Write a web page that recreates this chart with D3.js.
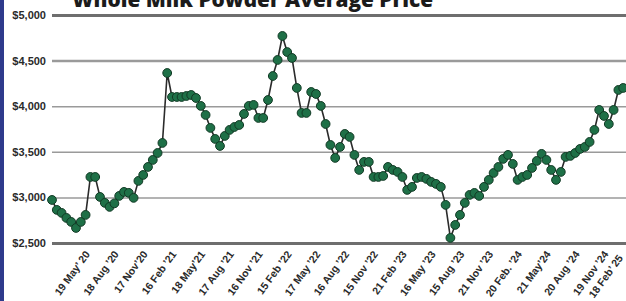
<!DOCTYPE html>
<html>
<head>
<meta charset="utf-8">
<script src="https://cdn.jsdelivr.net/npm/d3@7"></script>
<style>
  body { margin: 0; background: #fff; }
  svg { display: block; }
  .axis text { font-family: "Liberation Sans", Arial, sans-serif; font-weight: bold; fill: #2a2a2a; }
</style>
</head>
<body>
<script>
var width = 626;
var height = 301;
var margin = {top: 15, right: 0, bottom: 58, left: 52};

// GDT whole milk powder, average price (US$/t), one value per auction, Mar 2020 - Feb 2025
var prices = [
  2972, 2863, 2830, 2775, 2731, 2665, 2731, 2808, 3224, 3224,
  3005, 2940, 2896, 2935, 3016, 3060, 3050, 2995, 3181, 3246,
  3334, 3411, 3487, 3597, 4364, 4101, 4101, 4101, 4112, 4123,
  4090, 4003, 3904, 3762, 3641, 3564, 3674, 3740, 3772, 3794,
  3915, 4003, 4014, 3871, 3871, 4068, 4331, 4507, 4770, 4594,
  4529, 4200, 3926, 3926, 4156, 4134, 4003, 3805, 3575, 3433,
  3553, 3696, 3663, 3466, 3301, 3389, 3389, 3224, 3224, 3235,
  3334, 3301, 3279, 3224, 3082, 3115, 3213, 3224, 3203, 3170,
  3148, 3115, 2918, 2556, 2698, 2808, 2940, 3027, 3049, 3016,
  3115, 3192, 3268, 3334, 3422, 3466, 3367, 3192, 3224, 3246,
  3323, 3400, 3477, 3411, 3301, 3192, 3279, 3444, 3455, 3487,
  3531, 3553, 3608, 3740, 3959, 3893, 3805, 3959, 4178, 4200
];

// auction dates shown on the axis (every sixth auction, starting with the sixth)
var tickLabels = [
  "19 May’ 20", "18 Aug ’20", "17 Nov’20", "16 Feb ’21", "18 May’21",
  "17 Aug ’21", "16 Nov ’21", "15 Feb ’22", "17 May ’22", "16 Aug ’22",
  "15 Nov ’22", "21 Feb ’23", "16 May ’23", "15 Aug ’23", "21 Nov ’23",
  "20 Feb. ’24", "21 May’24", "20 Aug ’24", "19 Nov ’24", "18 Feb’ 25"
];
var tickAt = d3.range(5, prices.length, 6);

var yTicks = [2500, 3000, 3500, 4000, 4500, 5000];

var title = "Whole Milk Powder Average Price";

var svg = d3.select("body").append("svg")
  .attr("width", width)
  .attr("height", height);

// blue page edge on the left
svg.append("rect")
  .attr("x", 0).attr("y", 0)
  .attr("width", 4).attr("height", height)
  .attr("fill", "#2e3a8c");

// title sits partly above the top edge, as in the original crop
svg.append("text")
  .attr("x", 72)
  .attr("y", 7)
  .attr("textLength", 361)
  .attr("lengthAdjust", "spacingAndGlyphs")
  .style("font-family", "'Open Sans', sans-serif")
  .style("font-weight", 800)
  .style("font-size", "21px")
  .style("fill", "#1b1b1b")
  .text(title);

var x = d3.scaleLinear()
  .domain([0, prices.length - 1])
  .range([margin.left, 623.2]);

var y = d3.scaleLinear()
  .domain([2500, 5000])
  .range([height - margin.bottom, margin.top]);

// gridlines + dollar labels
var yAxis = d3.axisLeft(y)
  .tickValues(yTicks)
  .tickSize(-(width - margin.left))
  .tickPadding(6)
  .tickFormat(d3.format("$,"));

var gy = svg.append("g")
  .attr("class", "axis")
  .attr("transform", "translate(" + margin.left + ",0)")
  .call(yAxis);

gy.select(".domain").remove();
gy.selectAll("line")
  .attr("stroke", function(d) { return (d == 2500 || d == 5000) ? "#6e6e6e" : "#9a9a9a"; })
  .attr("stroke-width", function(d) {
    if (d == 2500 || d == 5000) return 3;
    if (d == 4500) return 2.5;
    return 1.5;
  });
gy.selectAll("text").style("font-size", "11px");

// rotated date labels
var xAxis = d3.axisBottom(x)
  .tickValues(tickAt)
  .tickSize(0)
  .tickFormat(function(d, i) { return tickLabels[i]; });

var gx = svg.append("g")
  .attr("class", "axis")
  .attr("transform", "translate(0," + (height - margin.bottom) + ")")
  .call(xAxis);

gx.select(".domain").remove();
gx.selectAll("text")
  .style("font-size", "10.5px")
  .style("text-anchor", "end")
  .attr("x", 0)
  .attr("y", 0)
  .attr("dy", "0.35em")
  .attr("transform", function(d) {
    var dx = 11, dy = 9;
    if (x(d) + dx > width - 6) { dx = width - 6 - x(d); dy = 13; }
    return "translate(" + dx + "," + dy + ") rotate(-54)";
  });

var line = d3.line()
  .x(function(d, i) { return x(i); })
  .y(function(d) { return y(d); });

svg.append("path")
  .datum(prices)
  .attr("d", line)
  .attr("fill", "none")
  .attr("stroke", "#2b2b2b")
  .attr("stroke-width", 1.6);

svg.selectAll("circle.pt")
  .data(prices)
  .enter().append("circle")
  .attr("class", "pt")
  .attr("cx", function(d, i) { return x(i); })
  .attr("cy", function(d) { return y(d); })
  .attr("r", 4.4)
  .style("fill", "#1e7047")
  .style("stroke", "#123a25")
  .style("stroke-width", 1);
</script>
</body>
</html>
